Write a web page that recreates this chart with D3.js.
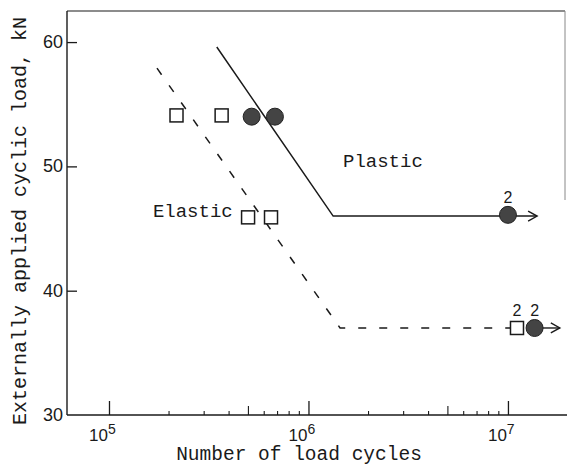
<!DOCTYPE html>
<html>
<head>
<meta charset="utf-8">
<script src="https://cdn.jsdelivr.net/npm/d3@7"></script>
<style>
  html, body { margin: 0; padding: 0; background: #fff; }
  svg { display: block; }
</style>
</head>
<body>
<svg id="chart" width="567" height="468"></svg>
<script>
// ---- data ----
const yTicks = [30, 40, 50, 60];
const xMajor = [1e5, 1e6, 1e7];
const xMajorExp = ["5", "6", "7"];
const xMinorMultipliers = [2, 3, 4, 5, 6, 7, 8, 9];
const xMinorDecades = [1e5, 1e6];

// Plastic limit line (solid), N vs kN
const plasticLine = [
  { n: 3.47e5, load: 59.6 },
  { n: 1.33e6, load: 46.0 },
  { n: 1.40e7, load: 46.0 }
];
// Elastic limit line (dashed)
const elasticLine = [
  { n: 1.74e5, load: 57.9 },
  { n: 1.44e6, load: 37.0 },
  { n: 1.11e7, load: 37.0 }
];
// run-out arrow on the lower level (from circle)
const runoutArrowLow = [
  { n: 1.36e7, load: 37.0 },
  { n: 1.82e7, load: 37.0 }
];

// open squares
const squares = [
  { n: 2.18e5, load: 54.1 },
  { n: 3.67e5, load: 54.1 },
  { n: 4.98e5, load: 45.9 },
  { n: 6.49e5, load: 45.9 },
  { n: 1.11e7, load: 37.0 }
];
// filled circles
const circles = [
  { n: 5.19e5, load: 54.0 },
  { n: 6.79e5, load: 54.0 },
  { n: 1.00e7, load: 46.1 },
  { n: 1.36e7, load: 37.0 }
];
// specimen count labels
const counts = [
  { n: 1.00e7, load: 46.1, text: "2" },
  { n: 1.11e7, load: 37.0, text: "2" },
  { n: 1.36e7, load: 37.0, text: "2" }
];
// region labels
const regionLabels = [
  { n: 1.49e6, load: 49.95, text: "Plastic" },
  { n: 1.66e5, load: 45.9, text: "Elastic" }
];

const xTitle = "Number of load cycles";
const yTitle = "Externally applied cyclic load, kN";

// ---- layout ----
const svg = d3.select("#chart");
const mLeft = 67, mRight = 565, mTop = 11, mBottom = 415;
const ink = "#1a1a1a";
const mono = "'Liberation Mono', 'DejaVu Sans Mono', monospace";
const sans = "'Liberation Sans', Arial, sans-serif";

const x = d3.scaleLog()
  .domain([Math.pow(10, 4.7895), Math.pow(10, 7.286)])
  .range([mLeft, mRight]);
const y = d3.scaleLinear()
  .domain([30, 62.5])
  .range([mBottom, mTop]);

// frame
svg.append("line").attr("x1", mLeft).attr("x2", mLeft).attr("y1", mTop).attr("y2", mBottom)
  .attr("stroke", ink).attr("stroke-width", 1.4);
svg.append("line").attr("x1", mLeft).attr("x2", 567).attr("y1", mBottom).attr("y2", mBottom)
  .attr("stroke", ink).attr("stroke-width", 1.4);
svg.append("line").attr("x1", mLeft).attr("x2", mRight).attr("y1", mTop).attr("y2", mTop)
  .attr("stroke", ink).attr("stroke-width", 1.2);
svg.append("line").attr("x1", mRight).attr("x2", mRight).attr("y1", mTop).attr("y2", 200)
  .attr("stroke", "#888").attr("stroke-width", 1);

// y ticks (inward)
const yAxis = d3.axisRight(y).tickValues(yTicks.filter(v => v > 30)).tickSize(10).tickFormat("");
const yg = svg.append("g").attr("transform", `translate(${mLeft},0)`).call(yAxis);
yg.select(".domain").remove();
yg.selectAll(".tick line").attr("stroke", ink).attr("stroke-width", 1.3);

svg.append("g").selectAll("text").data(yTicks).join("text")
  .attr("x", mLeft - 4).attr("y", d => y(d))
  .attr("text-anchor", "end").attr("dominant-baseline", "central")
  .attr("font-family", sans).attr("font-size", 18).attr("fill", ink)
  .text(d => d);

// x ticks (inward): major
const xAxisMajor = d3.axisTop(x).tickValues(xMajor).tickSize(14).tickFormat("");
const xg = svg.append("g").attr("transform", `translate(0,${mBottom})`).call(xAxisMajor);
xg.select(".domain").remove();
xg.selectAll(".tick line").attr("stroke", ink).attr("stroke-width", 1.3);

// minor ticks
const minorVals = [];
xMinorDecades.forEach(d => xMinorMultipliers.forEach(m => minorVals.push({ v: d * m, m })));
svg.append("g").selectAll("line").data(minorVals).join("line")
  .attr("x1", d => x(d.v)).attr("x2", d => x(d.v))
  .attr("y1", mBottom).attr("y2", d => mBottom - (d.m === 5 ? 9 : 4))
  .attr("stroke", ink).attr("stroke-width", 1.1);

// x tick labels 10^k
const xl = svg.append("g").selectAll("text").data(xMajor).join("text")
  .attr("x", d => x(d) - 20).attr("y", mBottom + 26)
  .attr("font-family", sans).attr("font-size", 17).attr("fill", ink);
xl.append("tspan").text("10");
xl.append("tspan").attr("dy", -7).attr("font-size", 14).text((d, i) => xMajorExp[i]);

// axis titles
svg.append("text").attr("x", 299).attr("y", 460)
  .attr("text-anchor", "middle").attr("font-family", mono).attr("font-size", 19.5).attr("fill", ink)
  .text(xTitle);
svg.append("text")
  .attr("transform", "translate(20,221) rotate(-90)")
  .attr("text-anchor", "middle").attr("dominant-baseline", "central")
  .attr("font-family", mono).attr("font-size", 20).attr("fill", ink)
  .text(yTitle);

// lines
const line = d3.line().x(d => x(d.n)).y(d => y(d.load));
svg.append("path").datum(plasticLine).attr("d", line)
  .attr("fill", "none").attr("stroke", ink).attr("stroke-width", 1.5);
svg.append("path").datum(elasticLine).attr("d", line)
  .attr("fill", "none").attr("stroke", ink).attr("stroke-width", 1.5)
  .attr("stroke-dasharray", "8,13");
svg.append("path").datum(runoutArrowLow).attr("d", line)
  .attr("fill", "none").attr("stroke", ink).attr("stroke-width", 1.4);

// arrow heads (open chevrons) at ends of run-out lines
const arrowEnds = [plasticLine[plasticLine.length - 1], runoutArrowLow[runoutArrowLow.length - 1]];
svg.append("g").selectAll("path").data(arrowEnds).join("path")
  .attr("d", d => {
    const px = x(d.n), py = y(d.load);
    return `M${px - 9},${py - 5} L${px},${py} L${px - 9},${py + 5}`;
  })
  .attr("fill", "none").attr("stroke", ink).attr("stroke-width", 1.4);

// squares
svg.append("g").selectAll("rect").data(squares).join("rect")
  .attr("x", d => x(d.n) - 6.5).attr("y", d => y(d.load) - 6.5)
  .attr("width", 13).attr("height", 13)
  .attr("fill", "#fff").attr("stroke", ink).attr("stroke-width", 1.5);

// circles
svg.append("g").selectAll("circle").data(circles).join("circle")
  .attr("cx", d => x(d.n)).attr("cy", d => y(d.load)).attr("r", 8.5)
  .attr("fill", "#444").attr("stroke", "#222").attr("stroke-width", 1);

// count labels
svg.append("g").selectAll("text").data(counts).join("text")
  .attr("x", d => x(d.n)).attr("y", d => y(d.load) - 12)
  .attr("text-anchor", "middle").attr("font-family", sans).attr("font-size", 16).attr("fill", ink)
  .text(d => d.text);

// region labels
svg.append("g").selectAll("text").data(regionLabels).join("text")
  .attr("x", d => x(d.n)).attr("y", d => y(d.load))
  .attr("font-family", mono).attr("font-size", 19).attr("fill", ink)
  .text(d => d.text);
</script>
</body>
</html>
